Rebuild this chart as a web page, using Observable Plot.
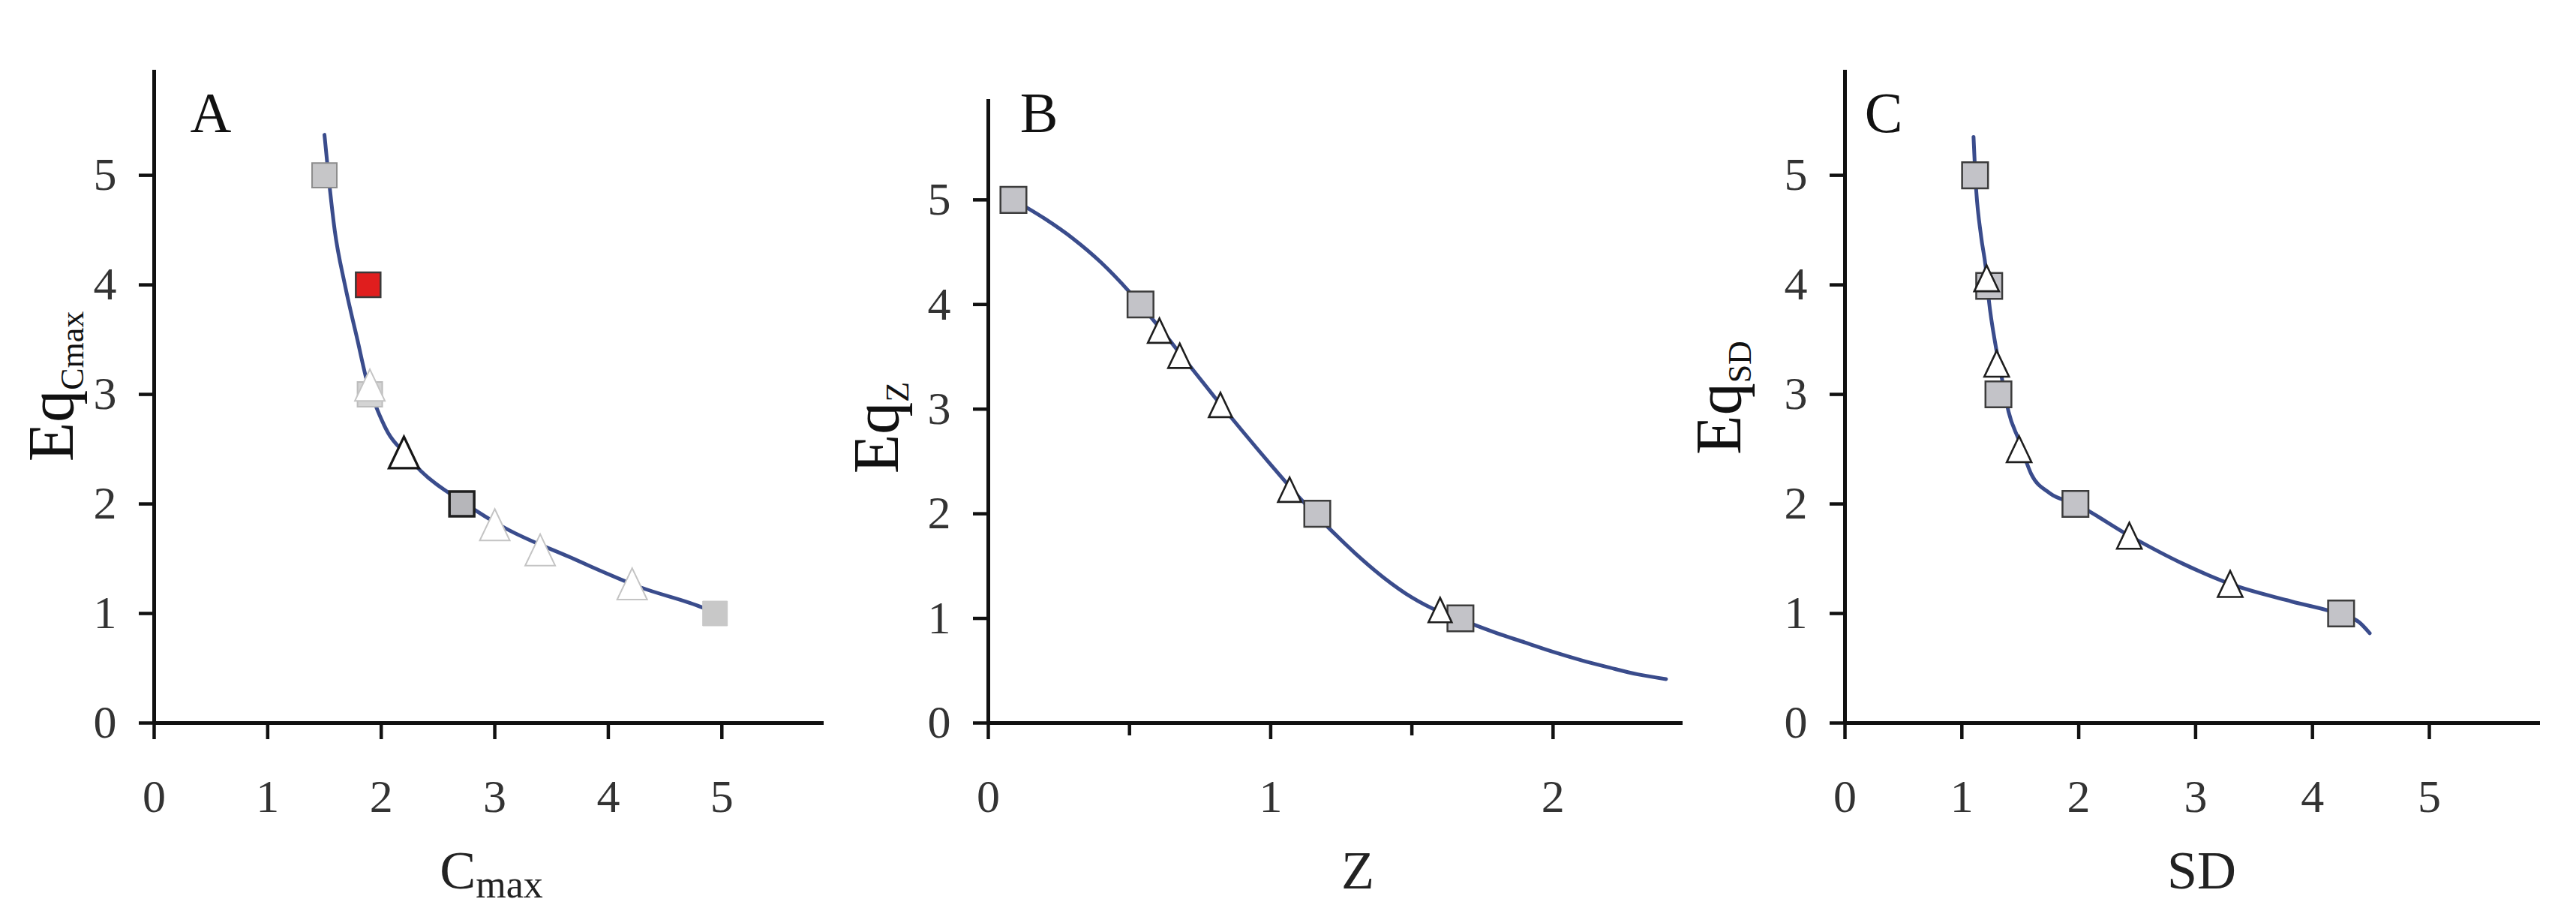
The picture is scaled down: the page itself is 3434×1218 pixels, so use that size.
<!DOCTYPE html>
<html><head><meta charset="utf-8">
<script src="https://cdn.jsdelivr.net/npm/d3@7"></script>
<script src="https://cdn.jsdelivr.net/npm/@observablehq/plot@0.6"></script>
<style>
html,body{margin:0;padding:0;background:#fff;}
#wrap{position:relative;width:3434px;height:1218px;overflow:hidden;background:#fff;}
#wrap svg{position:absolute;top:0;}
</style></head><body><div id="wrap"></div>
<script>
// ---------- Panel A : EqCmax vs Cmax ----------
const aCurveX = [1.50,1.535,1.59,1.68,1.79,1.88,1.95,2.06,2.20,2.35,2.73,3.09,3.67,4.28,4.84,4.95];
const aCurveY = [5.37,5.0,4.5,4.0,3.5,3.1,2.9,2.65,2.47,2.30,2.01,1.78,1.51,1.24,1.05,1.0];
const aSqX = [1.50,1.885,1.90,2.71,4.94];
const aSqY = [5,4,3,2,1];
const aSqKind = ["gray","red","faint","dark","plain"];
const aTriX = [1.90,2.20,3.00,3.40,4.21];
const aTriY = [3.085,2.47,1.81,1.58,1.27];
const aTriKind = ["faint","black","faint","faint","faint"];
const aXTicks = [0,1,2,3,4,5];

// ---------- Panel B : EqZ vs Z ----------
const bCurveX = [0.089,0.2,0.3,0.4,0.5,0.6,0.7,0.8,0.9,1.0,1.1,1.2,1.3,1.4,1.5,1.6,1.7,1.8,1.9,2.0,2.1,2.2,2.3,2.4];
const bCurveY = [5.0,4.82,4.63,4.40,4.12,3.80,3.46,3.12,2.79,2.47,2.16,1.88,1.62,1.39,1.20,1.06,0.96,0.86,0.77,0.68,0.60,0.53,0.465,0.42];
const bSqX = [0.089,0.539,1.165,1.672];
const bSqY = [5,4,2,1];
const bTriX = [0.606,0.678,0.822,1.067,1.60];
const bTriY = [3.75,3.51,3.04,2.23,1.08];
const bXTicks = [0,1,2];
const bXMinor = [0.5,1.5];

// ---------- Panel C : EqSD vs SD ----------
const cCurveX = [1.10,1.115,1.165,1.203,1.23,1.294,1.357,1.40,1.485,1.595,1.75,1.972,2.433,2.88,3.296,3.82,4.245,4.40,4.49];
const cCurveY = [5.35,5.0,4.44,4.17,3.87,3.415,3.07,2.84,2.59,2.27,2.1,2.0,1.71,1.46,1.27,1.11,0.99,0.92,0.82];
const cSqX = [1.113,1.234,1.313,1.972,4.245];
const cSqY = [5,3.99,3.0,2.0,1.0];
const cTriX = [1.212,1.298,1.49,2.433,3.296];
const cTriY = [4.06,3.28,2.50,1.71,1.27];
const cXTicks = [0,1,2,3,4,5];

const yTicks = [0,1,2,3,4,5];

// ---------- styles ----------
const LINE = "#3a4c8c";
const sqStyle = {
  gray:  {fill:"#c6c6c8", stroke:"#8c8c8c", sw:2},
  red:   {fill:"#e01e1e", stroke:"#3a3a3a", sw:2.5},
  faint: {fill:"#d4d4d4", stroke:"#bcbcbc", sw:2},
  dark:  {fill:"#b6b6ba", stroke:"#1e1e1e", sw:3.5},
  plain: {fill:"#c8c8c8", stroke:"#c8c8c8", sw:1},
  std:   {fill:"#c3c3c8", stroke:"#3c3c3c", sw:2.5}
};
const triStyle = {
  faint: {stroke:"#c4c4c4", sw:2},
  black: {stroke:"#151515", sw:3.2},
  std:   {stroke:"#1e1e1e", sw:2.6}
};
// triangle centred on its bounding box, slightly taller than wide
const triSymbol = {
  draw(ctx, size) {
    const r = Math.sqrt(size / Math.PI);
    const h = r * 1.05;
    ctx.moveTo(0, -h);
    ctx.lineTo(r, h);
    ctx.lineTo(-r, h);
    ctx.closePath();
  }
};

const zip = (xs, ys, ks) => xs.map((x, i) => ({x, y: ys[i], k: ks ? ks[i] : "std"}));

function panel(o) {
  const curve = zip(o.curveX, o.curveY);
  const sq = zip(o.sqX, o.sqY, o.sqKind);
  const tri = zip(o.triX, o.triY, o.triKind);
  const marks = [
    Plot.ruleY([0], {stroke:"#111", strokeWidth:5}),
    Plot.ruleX([0], {stroke:"#111", strokeWidth:5}),
    Plot.axisY({ticks: yTicks, tickSize: 20, tickPadding: 30, fontSize: 62, stroke:"#111", strokeWidth: 4.5, fill:"#333", label:null, fontFamily:"Liberation Serif", tickFormat: d => String(d)}),
    Plot.axisX({ticks: o.xTicks, tickSize: 22, tickPadding: 52, fontSize: 62, stroke:"#111", strokeWidth: 4.5, fill:"#333", label:null, fontFamily:"Liberation Serif", tickFormat: d => String(d)}),
  ];
  if (o.xMinor) marks.push(Plot.axisX({ticks: o.xMinor, tickSize: 17, stroke:"#111", strokeWidth: 4.5, tickFormat: () => "", label:null}));
  marks.push(
    Plot.line(curve, {x:"x", y:"y", stroke: LINE, strokeWidth: 5, curve: "monotone-x"}),
    Plot.dot(sq, {x:"x", y:"y", symbol:"square", r:o.sqR,
      fill: d => sqStyle[d.k].fill, stroke: d => sqStyle[d.k].stroke, strokeWidth: d => sqStyle[d.k].sw}),
    Plot.dot(tri, {x:"x", y:"y", symbol: triSymbol, r:o.triR, fill:"white",
      stroke: d => triStyle[d.k].stroke, strokeWidth: d => triStyle[d.k].sw})
  );
  const svg = Plot.plot({
    width: o.width, height: 1218,
    marginLeft: o.marginLeft, marginRight: o.marginRight,
    marginTop: o.marginTop, marginBottom: 255,
    x: {domain: o.xDomain},
    y: {domain: [0, 5.96]},
    color: {type: "identity"},
    style: {fontFamily: "Liberation Serif", background: "transparent", overflow: "visible"},
    marks
  });
  svg.style.left = o.left + "px";
  const s = d3.select(svg);
  // panel letter
  s.append("text").attr("x", o.letterX - o.left).attr("y", 176)
    .attr("text-anchor","middle").attr("font-size", 76).attr("fill","#111")
    .attr("font-family","Liberation Serif").text(o.letter);
  // y label (rotated, with subscript)
  const yl = s.append("text")
    .attr("transform", `translate(${o.ylabelX - o.left},${o.ylabelY}) rotate(-90)`)
    .attr("text-anchor","middle").attr("fill","#111").attr("font-family","Liberation Serif");
  yl.append("tspan").attr("font-size", 86).text("Eq");
  yl.append("tspan").attr("font-size", 44).attr("dy", 14).text(o.ysub);
  // x label
  const xl = s.append("text").attr("x", o.xlabelX - o.left).attr("y", 1184)
    .attr("text-anchor","middle").attr("fill","#222").attr("font-family","Liberation Serif");
  xl.append("tspan").attr("font-size", 72).text(o.xlabel);
  if (o.xsub) xl.append("tspan").attr("font-size", 52).attr("dy", 12).text(o.xsub);
  document.getElementById("wrap").appendChild(svg);
}

panel({left:0, width:1140, marginLeft:205, marginRight:42, marginTop:93, xDomain:[0,5.9],
  curveX:aCurveX, curveY:aCurveY, sqX:aSqX, sqY:aSqY, sqKind:aSqKind, triX:aTriX, triY:aTriY, triKind:aTriKind,
  sqR:18.6, triR:20, xTicks:aXTicks, letter:"A", letterX:281, ylabelX:97, ylabelY:515, ysub:"Cmax",
  xlabel:"C", xsub:"max", xlabelX:655});

panel({left:1140, width:1145, marginLeft:177, marginRight:42, marginTop:132, xDomain:[0,2.46],
  curveX:bCurveX, curveY:bCurveY, sqX:bSqX, sqY:bSqY, triX:bTriX, triY:bTriY,
  sqR:19.5, triR:15.5, xTicks:bXTicks, xMinor:bXMinor, letter:"B", letterX:1385, ylabelX:1197, ylabelY:570, ysub:"Z",
  xlabel:"Z", xlabelX:1810});

panel({left:2285, width:1149, marginLeft:174, marginRight:48, marginTop:93, xDomain:[0,5.95],
  curveX:cCurveX, curveY:cCurveY, sqX:cSqX, sqY:cSqY, triX:cTriX, triY:cTriY,
  sqR:19.5, triR:16.5, xTicks:cXTicks, letter:"C", letterX:2511, ylabelX:2320, ylabelY:530, ysub:"SD",
  xlabel:"SD", xlabelX:2935});
</script></body></html>
